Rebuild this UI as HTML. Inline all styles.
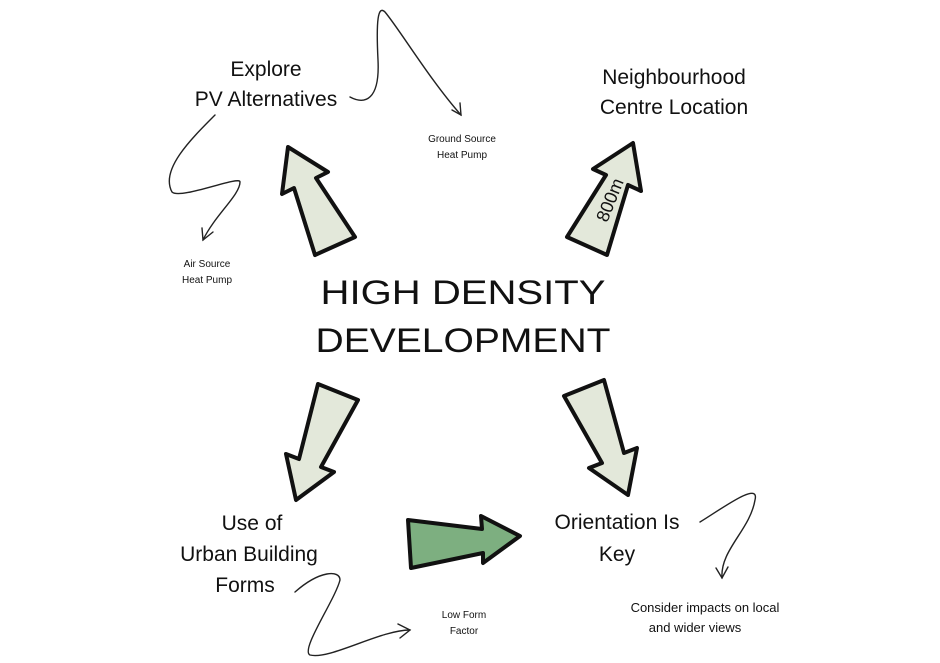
<!DOCTYPE html>
<html><head><meta charset="utf-8"><style>
html,body{margin:0;padding:0;background:#fff;}
svg{display:block;}
text{font-family:"Liberation Sans",sans-serif;fill:#111;text-anchor:middle;}
</style></head><body>
<svg width="940" height="663" viewBox="0 0 940 663" xmlns="http://www.w3.org/2000/svg">
<g stroke="#111" stroke-width="4" stroke-linejoin="round" fill="#e3e8da">
<polygon points="288,147 328,172 316,178 355,237 315,255 294,188 282,194"/>
<polygon points="633,143 641,191 628,185 607,255 567,237 606,175 593,169"/>
<polygon points="318,384 358,400 321,467 334,472 296,500 286,454 299,459"/>
<polygon points="564,396 604,380 624,453 637,448 628,495 589,468 602,463"/>
<polygon fill="#7daf80" points="408,520 482,529 481,516 520,536 483,563 483,553 411,568"/>
</g>
<g fill="none" stroke="#222" stroke-width="1.4" stroke-linecap="round">
<path d="M350,97 C365,105 380,100 378,60 C376,20 378,5 385,12 C400,30 430,80 461,115"/>
<path d="M452,110 L461,115 L460,103"/>
<path d="M215,115 C190,140 160,170 172,192 C180,200 240,175 240,182 C240,195 215,215 203,240"/>
<path d="M202,228 L203,240 L213,232"/>
<path d="M295,592 C320,570 340,570 340,580 C335,600 300,650 310,655 C330,660 380,630 410,630"/>
<path d="M398,624 L410,630 L400,638"/>
<path d="M700,522 C720,510 760,480 755,500 C750,530 720,550 722,578"/>
<path d="M716,568 L722,578 L728,567"/>
</g>
<text x="266" y="76" font-size="21">Explore</text>
<text x="266" y="106" font-size="21">PV Alternatives</text>
<text x="674" y="84" font-size="21">Neighbourhood</text>
<text x="674" y="114" font-size="21">Centre Location</text>
<text x="462" y="142" font-size="10">Ground Source</text>
<text x="462" y="158" font-size="10">Heat Pump</text>
<text x="207" y="267" font-size="10">Air Source</text>
<text x="207" y="283" font-size="10">Heat Pump</text>
<text x="463" y="304" font-size="34" textLength="285" lengthAdjust="spacingAndGlyphs">HIGH DENSITY</text>
<text x="463" y="352" font-size="34" textLength="295" lengthAdjust="spacingAndGlyphs">DEVELOPMENT</text>
<text x="610" y="206" font-size="18" transform="rotate(-68 610 200)">800m</text>
<text x="252" y="530" font-size="21">Use of</text>
<text x="249" y="561" font-size="21">Urban Building</text>
<text x="245" y="592" font-size="21">Forms</text>
<text x="617" y="529" font-size="21">Orientation Is</text>
<text x="617" y="561" font-size="21">Key</text>
<text x="464" y="618" font-size="10">Low Form</text>
<text x="464" y="634" font-size="10">Factor</text>
<text x="705" y="612" font-size="13">Consider impacts on local</text>
<text x="695" y="632" font-size="13">and wider views</text>
</svg>
</body></html>
